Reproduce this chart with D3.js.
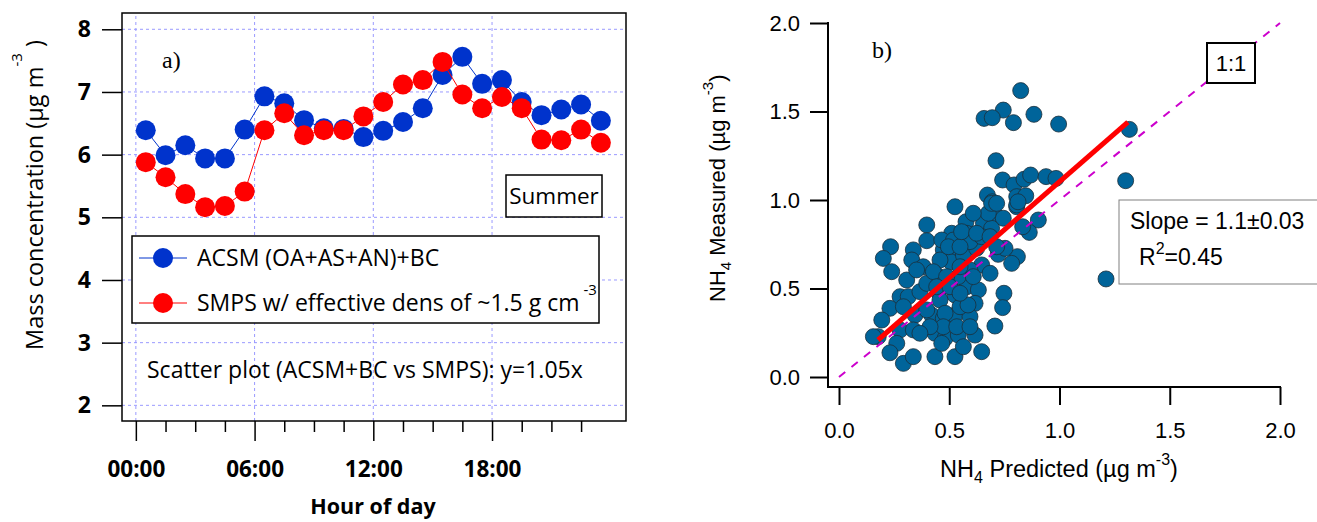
<!DOCTYPE html>
<html><head><meta charset="utf-8">
<script src="https://cdn.jsdelivr.net/npm/d3@7"></script>
<style>body{margin:0;background:#fff}svg{display:block}</style>
</head><body>
<svg id="c" width="1317" height="522"></svg>
<script>
// ---------- Panel a) data ----------
const hours = [0.5,1.5,2.5,3.5,4.5,5.5,6.5,7.5,8.5,9.5,10.5,11.5,12.5,13.5,14.5,15.5,16.5,17.5,18.5,19.5,20.5,21.5,22.5,23.5];
const acsm = [6.39,5.99,6.15,5.94,5.94,6.40,6.93,6.82,6.55,6.42,6.41,6.28,6.38,6.52,6.74,7.27,7.56,7.13,7.19,6.84,6.63,6.72,6.80,6.54];
const smps = [5.88,5.64,5.37,5.16,5.18,5.41,6.39,6.66,6.31,6.39,6.39,6.61,6.84,7.12,7.19,7.48,6.96,6.74,6.92,6.74,6.24,6.23,6.40,6.19];
const leftYTicks = [2,3,4,5,6,7,8];
const leftXTicks = [0,6,12,18];
const leftXTickLabels = ["00:00","06:00","12:00","18:00"];
const leftXMinor = [1.5,3,4.5,7.5,9,10.5,13.5,15,16.5,19.5,21,22.5];

// ---------- Panel b) data ----------
const nh4Pred = [0.824,0.745,0.658,0.695,0.791,0.884,0.996,1.317,0.712,0.742,0.794,0.839,0.869,0.939,0.984,1.300,0.673,0.695,0.806,0.847,
0.526,0.806,1.211,0.748,0.742,0.707,0.904,0.863,0.833,0.809,0.783,0.722,0.753,0.715,0.745,0.806,0.398,0.576,0.655,0.692,
0.511,0.579,0.398,0.234,0.201,0.239,0.337,0.330,0.382,0.443,0.473,0.503,0.507,0.564,0.624,0.647,0.307,0.277,0.314,0.367,
0.450,0.526,0.579,0.632,0.617,0.231,0.194,0.178,0.292,0.345,0.420,0.473,0.526,0.594,0.277,0.337,0.435,0.481,0.541,0.617,
0.262,0.231,0.292,0.337,0.435,0.526,0.564,0.647,0.466,0.398,0.458,0.481,0.398,0.549,0.585,0.466,0.519,0.458,0.594,0.541,
0.156,0.352,0.594,0.647,0.677,0.692,0.428,0.488,0.549,0.609,0.443,0.503,0.549,0.473,0.534,0.594,0.413,0.367,0.496,0.549,
0.556,0.624,0.609,0.715,0.812,0.685,0.715,0.685];
const nh4Meas = [1.618,1.508,1.461,1.465,1.437,1.484,1.429,1.399,1.222,1.113,1.085,1.117,1.141,1.132,1.122,1.109,1.028,0.990,1.019,1.024,
0.962,0.962,0.554,0.473,0.392,0.288,0.887,0.817,0.849,0.680,0.642,0.693,0.727,0.906,0.897,0.972,0.859,0.877,0.868,0.840,
0.812,0.812,0.770,0.736,0.670,0.595,0.718,0.661,0.623,0.576,0.718,0.699,0.651,0.689,0.727,0.633,0.548,0.454,0.454,0.482,
0.482,0.463,0.510,0.492,0.416,0.388,0.322,0.228,0.397,0.350,0.350,0.332,0.350,0.341,0.266,0.266,0.247,0.219,0.237,0.237,
0.190,0.137,0.077,0.115,0.115,0.115,0.171,0.143,0.190,0.529,0.435,0.360,0.379,0.397,0.407,0.774,0.774,0.661,0.605,0.567,
0.228,0.605,0.765,0.793,0.925,0.981,0.595,0.567,0.623,0.567,0.510,0.510,0.473,0.284,0.284,0.284,0.284,0.247,0.736,0.736,
0.821,0.812,0.925,0.981,0.990,0.793,0.736,0.586];
const fitX = [0.177, 1.31];
const fitY = [0.209, 1.44];
const oneToOne = [0, 2];
const rightTicks = [0, 0.5, 1.0, 1.5, 2.0];

const svg = d3.select("#c");
const LF = "'Open Sans', sans-serif";
const RF = "'Liberation Sans', Arial, sans-serif";
const SF = "'Liberation Serif', 'Times New Roman', serif";

// ================= Panel a =================
const xL = d3.scaleLinear().domain([-0.7, 24.77]).range([122, 626]);
const yL = d3.scaleLinear().domain([1.75, 8.26]).range([421, 13]);
const gridColor = "#9a9aff";
const gA = svg.append("g");
gA.selectAll("line.hg").data(leftYTicks).join("line").attr("class","hg")
  .attr("x1",xL.range()[0]).attr("x2",xL.range()[1]).attr("y1",d=>yL(d)).attr("y2",d=>yL(d))
  .attr("stroke",gridColor).attr("stroke-width",1).attr("stroke-dasharray","3,3");
gA.selectAll("line.vg").data(leftXTicks).join("line").attr("class","vg")
  .attr("x1",d=>xL(d)).attr("x2",d=>xL(d)).attr("y1",yL.range()[0]).attr("y2",yL.range()[1])
  .attr("stroke",gridColor).attr("stroke-width",1).attr("stroke-dasharray","3,3");

function styleAxis(g, font, size, weight, sw){
  g.select(".domain").remove();
  g.selectAll(".tick line").attr("stroke","#000").attr("stroke-width",sw);
  g.selectAll(".tick text").attr("font-family",font).attr("font-size",size).attr("font-weight",weight).attr("fill","#000");
}
svg.append("g").attr("transform",`translate(${xL.range()[0]},0)`)
  .call(d3.axisLeft(yL).tickValues(leftYTicks).tickSize(20).tickPadding(11).tickFormat(d3.format("d")))
  .call(g=>styleAxis(g, LF, 23, "bold", 1.5));
svg.append("g").attr("transform",`translate(0,${yL.range()[0]})`)
  .call(d3.axisBottom(xL).tickValues(leftXMinor).tickSize(11).tickFormat(""))
  .call(g=>styleAxis(g, LF, 22, "bold", 1.5));
svg.append("g").attr("transform",`translate(0,${yL.range()[0]})`)
  .call(d3.axisBottom(xL).tickValues(leftXTicks).tickSize(20).tickPadding(20).tickFormat((d,i)=>leftXTickLabels[i]))
  .call(g=>styleAxis(g, LF, 22.5, "bold", 1.5));

gA.append("rect").attr("x",xL.range()[0]).attr("y",yL.range()[1])
  .attr("width",xL.range()[1]-xL.range()[0]).attr("height",yL.range()[0]-yL.range()[1])
  .attr("fill","none").attr("stroke","#000").attr("stroke-width",1.5);

const blue = "#0033cc", red = "#ff0000";
function series(vals, color){
  const line = d3.line().x((d,i)=>xL(hours[i])).y(d=>yL(d));
  svg.append("path").datum(vals).attr("d",line).attr("fill","none").attr("stroke",color).attr("stroke-width",1);
  svg.append("g").selectAll("circle").data(vals).join("circle")
    .attr("cx",(d,i)=>xL(hours[i])).attr("cy",d=>yL(d)).attr("r",10).attr("fill",color);
}
series(acsm, blue);
series(smps, red);

// a) label
svg.append("text").attr("x",162).attr("y",68).attr("font-family",SF).attr("font-size",24).text("a)");
// Summer box
svg.append("rect").attr("x",506).attr("y",175).attr("width",96).attr("height",42).attr("fill","#fff").attr("stroke","#000").attr("stroke-width",1.5);
svg.append("text").attr("x",554).attr("y",204).attr("text-anchor","middle").attr("font-family",LF).attr("font-size",22.5).text("Summer");
// legend
svg.append("rect").attr("x",132).attr("y",236).attr("width",467).attr("height",87).attr("fill","#fff").attr("stroke","#000").attr("stroke-width",1.5);
[[blue,258,"ACSM (OA+AS+AN)+BC",false],[red,303,"SMPS w/ effective dens of ~1.5 g cm",true]].forEach(([c,yy,t,sup])=>{
  svg.append("line").attr("x1",139).attr("x2",187).attr("y1",yy).attr("y2",yy).attr("stroke",c).attr("stroke-width",1);
  svg.append("circle").attr("cx",163).attr("cy",yy).attr("r",10).attr("fill",c);
  const tx = svg.append("text").attr("x",197).attr("y",yy+8).attr("font-family",LF).attr("font-size",23).attr("fill","#000");
  tx.append("tspan").text(t);
  if(sup) tx.append("tspan").attr("dx",4).attr("dy",-16).attr("font-size",15).text("-3");
});
svg.append("text").attr("x",147).attr("y",378).attr("font-family",LF).attr("font-size",23).text("Scatter plot (ACSM+BC vs SMPS): y=1.05x");
// axis titles
svg.append("text").attr("x",373).attr("y",514).attr("text-anchor","middle").attr("font-family",LF).attr("font-size",21.5).attr("font-weight","bold").text("Hour of day");
{
  const t = svg.append("text").attr("transform","translate(43,350) rotate(-90)").attr("font-family",LF).attr("font-size",23.5);
  t.append("tspan").text("Mass concentration (µg m");
  t.append("tspan").attr("dy",-21).attr("font-size",15).text("-3");
  t.append("tspan").attr("dy",21).text(" )");
}

// ================= Panel b =================
const xR = d3.scaleLinear().domain([0,2]).range([839,1280]);
const yR = d3.scaleLinear().domain([0,2]).range([377,23]);
const axX = 828, axY = 387;
svg.append("g").attr("transform",`translate(${axX},0)`)
  .call(d3.axisLeft(yR).tickValues(rightTicks).tickSize(18).tickPadding(10).tickFormat(d3.format(".1f")))
  .call(g=>styleAxis(g, RF, 22, "normal", 2));
svg.append("g").attr("transform",`translate(0,${axY})`)
  .call(d3.axisBottom(xR).tickValues(rightTicks).tickSize(18).tickPadding(17).tickFormat(d3.format(".1f")))
  .call(g=>styleAxis(g, RF, 22, "normal", 2));
svg.append("line").attr("x1",axX).attr("x2",axX).attr("y1",yR(2)-1).attr("y2",axY+1).attr("stroke","#000").attr("stroke-width",2);
svg.append("line").attr("x1",axX).attr("x2",xR(2)+1).attr("y1",axY).attr("y2",axY).attr("stroke","#000").attr("stroke-width",2);

svg.append("g").selectAll("circle").data(nh4Pred).join("circle")
  .attr("cx",d=>xR(d)).attr("cy",(d,i)=>yR(nh4Meas[i])).attr("r",8)
  .attr("fill","#00649a").attr("stroke","#1c2e3a").attr("stroke-width",0.8);
svg.append("line").attr("x1",xR(fitX[0])).attr("y1",yR(fitY[0])).attr("x2",xR(fitX[1])).attr("y2",yR(fitY[1]))
  .attr("stroke",red).attr("stroke-width",5);
svg.append("line").attr("x1",xR(oneToOne[0])).attr("y1",yR(oneToOne[0])).attr("x2",xR(oneToOne[1])).attr("y2",yR(oneToOne[1]))
  .attr("stroke","#cc00cc").attr("stroke-width",2).attr("stroke-dasharray","8,8");

svg.append("text").attr("x",872).attr("y",58).attr("font-family",SF).attr("font-size",24).text("b)");
svg.append("rect").attr("x",1207).attr("y",43).attr("width",48).attr("height",40).attr("fill","#fff").attr("stroke","#000").attr("stroke-width",2);
svg.append("text").attr("x",1231).attr("y",71).attr("text-anchor","middle").attr("font-family",RF).attr("font-size",22).text("1:1");
svg.append("rect").attr("x",1119).attr("y",200).attr("width",210).attr("height",84).attr("fill","#fff").attr("stroke","#808080").attr("stroke-width",1);
svg.append("text").attr("x",1130).attr("y",229).attr("font-family",RF).attr("font-size",23).text("Slope = 1.1±0.03");
{
  const t = svg.append("text").attr("x",1139).attr("y",265).attr("font-family",RF).attr("font-size",23);
  t.append("tspan").text("R");
  t.append("tspan").attr("dy",-11).attr("font-size",16).text("2");
  t.append("tspan").attr("dy",11).text("=0.45");
}
{
  const t = svg.append("text").attr("x",1059).attr("y",477).attr("text-anchor","middle").attr("font-family",RF).attr("font-size",23.5);
  t.append("tspan").text("NH");
  t.append("tspan").attr("dy",6).attr("font-size",16).text("4");
  t.append("tspan").attr("dy",-6).text(" Predicted (µg m");
  t.append("tspan").attr("dy",-12).attr("font-size",16).text("-3");
  t.append("tspan").attr("dy",12).text(")");
}
{
  const t = svg.append("text").attr("transform","translate(725,302) rotate(-90)").attr("font-family",RF).attr("font-size",22);
  t.append("tspan").text("NH");
  t.append("tspan").attr("dy",6).attr("font-size",15).text("4");
  t.append("tspan").attr("dy",-6).text(" Measured (µg m");
  t.append("tspan").attr("dy",-12).attr("font-size",15).text("-3");
  t.append("tspan").attr("dy",12).text(")");
}
</script>
</body></html>
